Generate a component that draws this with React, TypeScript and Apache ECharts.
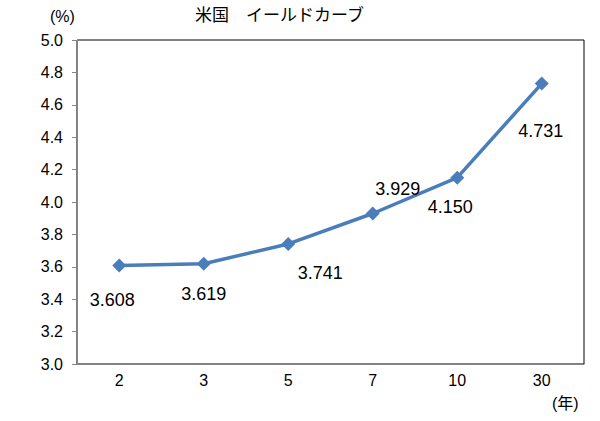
import React, { useEffect, useRef } from "react";
import * as echarts from "echarts";

const maturities = ["2", "3", "5", "7", "10", "30"];
const yields = [3.608, 3.619, 3.741, 3.929, 4.15, 4.731];
const title = "米国　イールドカーブ";
const yUnit = "(%)";
const xUnit = "(年)";

// label placement offsets (layout only)
const labelOffsets: [number, number][] = [
  [-7, 34],
  [0, 30],
  [32, 29],
  [25, -25],
  [-7, 29],
  [-1, 47],
];

const FONT = "'Liberation Sans', 'Noto Sans CJK JP', sans-serif";

export default function App() {
  const ref = useRef<HTMLDivElement>(null);
  useEffect(() => {
    if (!ref.current) return;
    const chart = echarts.init(ref.current, undefined, { renderer: "svg" });
    chart.setOption({
      animation: false,
      backgroundColor: "#ffffff",
      textStyle: { fontFamily: FONT },
      grid: {
        left: 77,
        right: 16,
        top: 40,
        bottom: 57,
        show: true,
        borderColor: "#000000",
        borderWidth: 1,
        backgroundColor: "transparent",
      },
      graphic: [
        {
          type: "text",
          left: 195,
          top: 7,
          style: { text: title, font: `17px ${FONT}`, fill: "#000" },
        },
        {
          type: "text",
          left: 50,
          top: 8,
          style: { text: yUnit, font: `16px ${FONT}`, fill: "#000" },
        },
        {
          type: "text",
          left: 552,
          top: 395,
          style: { text: xUnit, font: `16px ${FONT}`, fill: "#000" },
        },
      ],
      xAxis: {
        type: "category",
        data: maturities,
        boundaryGap: true,
        axisLine: { show: true, lineStyle: { color: "#868686", width: 1 } },
        axisTick: { show: false },
        axisLabel: { color: "#000", fontSize: 16, fontFamily: FONT, margin: 8 },
        splitLine: { show: false },
      },
      yAxis: {
        type: "value",
        min: 3.0,
        max: 5.0,
        interval: 0.2,
        axisLine: { show: true, lineStyle: { color: "#868686", width: 1 } },
        axisTick: { show: true, length: 5, lineStyle: { color: "#868686" } },
        axisLabel: {
          color: "#000",
          fontSize: 16,
          fontFamily: FONT,
          margin: 14,
          formatter: (v: number) => v.toFixed(1),
        },
        splitLine: { show: false },
      },
      series: [
        {
          type: "line",
          data: yields.map((v, i) => ({
            value: v,
            label: {
              show: true,
              position: "inside",
              offset: labelOffsets[i],
              formatter: v.toFixed(3),
              color: "#000",
              fontSize: 18,
              fontFamily: FONT,
            },
          })),
          symbol: "diamond",
          symbolSize: 14,
          lineStyle: { color: "#4A7EBB", width: 3.5 },
          itemStyle: { color: "#4A7EBB" },
        },
      ],
    });
    return () => chart.dispose();
  }, []);
  return (
    <div
      ref={ref}
      style={{ position: "fixed", left: 0, top: 0, width: 600, height: 421 }}
    />
  );
}
